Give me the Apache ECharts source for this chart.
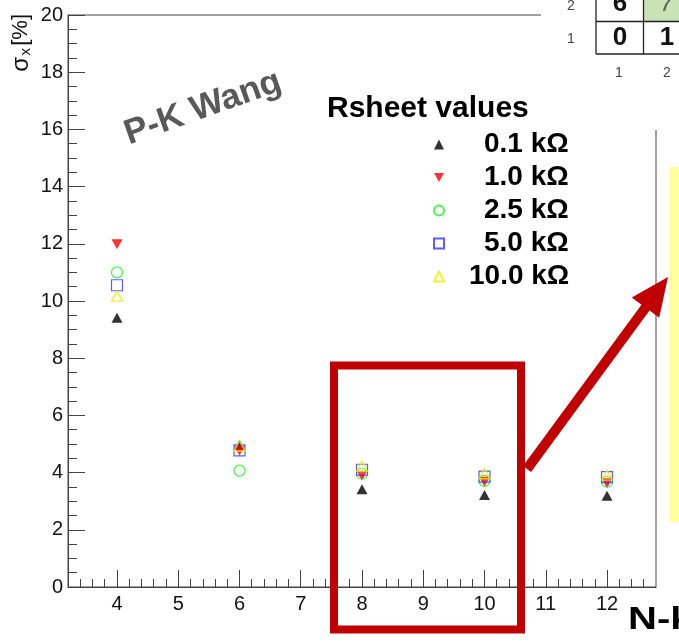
<!DOCTYPE html>
<html><head><meta charset="utf-8">
<script src="https://cdn.jsdelivr.net/npm/echarts@6/dist/echarts.min.js"></script>
<style>html,body{margin:0;padding:0;background:#fff}#c{width:679px;height:644px}</style>
</head><body><div id="c"></div>
<script>
// ---- data ----
const xValues = [4, 6, 8, 10, 12];
const r01  = [9.41, 4.97, 3.42, 3.22, 3.19];
const r10  = [11.98, 4.76, 3.89, 3.68, 3.63];
const r25  = [11.0, 4.07, 3.96, 3.71, 3.68];
const r50  = [10.55, 4.78, 4.10, 3.86, 3.84];
const r100 = [10.17, 4.93, 4.21, 3.96, 3.91];
const seriesNames = ['0.1 kΩ', '1.0 kΩ', '2.5 kΩ', '5.0 kΩ', '10.0 kΩ'];
const xTickLabels = [4, 5, 6, 7, 8, 9, 10, 11, 12];
const yTickLabels = [0, 2, 4, 6, 8, 10, 12, 14, 16, 18, 20];
const tableRowLabels = ['2', '1'];
const tableColLabels = ['1', '2'];
const tableCells = [['6', '7'], ['0', '1']];

const xMinorTicks = [];
for (let i = 17; i <= 63; i++) { if (i % 5 !== 0) xMinorTicks.push(i / 5); }

const FONT = 'Liberation Sans';
const AX = '#444';

function pts(arr) { return xValues.map((x, i) => [x, arr[i]]); }

const downTri = 'path://M0,0L10,0L5,9Z';
const series = [
  { name: seriesNames[0], data: pts(r01), symbol: 'triangle', symbolSize: [11, 10],
    itemStyle: { color: '#000' }, z: 3 },
  { name: seriesNames[1], data: pts(r10), symbol: downTri, symbolSize: [11, 10],
    itemStyle: { color: '#ff0000' }, z: 4 },
  { name: seriesNames[2], data: pts(r25), symbol: 'circle', symbolSize: 11,
    itemStyle: { color: 'rgba(255,255,255,0)', borderColor: '#22ee22', borderWidth: 1.2 }, z: 5 },
  { name: seriesNames[3], data: pts(r50), symbol: 'rect', symbolSize: 11,
    itemStyle: { color: 'rgba(255,255,255,0)', borderColor: '#3333ff', borderWidth: 1.2 }, z: 6 },
  { name: seriesNames[4], data: pts(r100), symbol: 'triangle', symbolSize: [11, 10],
    itemStyle: { color: 'rgba(255,255,255,0)', borderColor: '#eeee00', borderWidth: 1.4 }, z: 7 }
].map(s => Object.assign({ type: 'scatter', xAxisIndex: 0, yAxisIndex: 0, emphasis: { disabled: true } }, s));

// arrow geometry
const S = [527, 469], T = [668, 277];
const dx = T[0] - S[0], dy = T[1] - S[1], L = Math.hypot(dx, dy);
const u = [dx / L, dy / L], n = [-u[1], u[0]];
const headLen = 38, headHalf = 17, shaftHalf = 5;
const B = [T[0] - headLen * u[0], T[1] - headLen * u[1]];
const P = (p, k) => [p[0] + k * n[0], p[1] + k * n[1]];
const arrowPts = [P(S, shaftHalf), P(B, shaftHalf), P(B, headHalf), T, P(B, -headHalf), P(B, -shaftHalf), P(S, -shaftHalf)];

const graphics = [
  // white table image box
  { type: 'rect', z: 100, shape: { x: 541, y: 0, width: 138, height: 130 }, style: { fill: '#fff' } },
  { type: 'rect', z: 101, shape: { x: 644, y: 0, width: 40, height: 21.5 }, style: { fill: '#c9e3b6' } },
  { type: 'line', z: 102, shape: { x1: 596, y1: 0, x2: 596, y2: 54 }, style: { stroke: '#222', lineWidth: 1.3 } },
  { type: 'line', z: 102, shape: { x1: 643.5, y1: 0, x2: 643.5, y2: 54 }, style: { stroke: '#222', lineWidth: 1.3 } },
  { type: 'line', z: 102, shape: { x1: 596, y1: 21.5, x2: 679, y2: 21.5 }, style: { stroke: '#222', lineWidth: 1.3 } },
  { type: 'line', z: 102, shape: { x1: 596, y1: 54, x2: 679, y2: 54 }, style: { stroke: '#222', lineWidth: 1.3 } },
  { type: 'text', z: 103, x: 620, y: 4, style: { text: tableCells[0][0], font: 'bold 26px ' + FONT, fill: '#111', align: 'center', verticalAlign: 'middle' } },
  { type: 'text', z: 103, x: 667, y: 4, style: { text: tableCells[0][1], font: 'italic 26px ' + FONT, fill: '#5a6a50', align: 'center', verticalAlign: 'middle' } },
  { type: 'text', z: 103, x: 620, y: 38, style: { text: tableCells[1][0], font: 'bold 26px ' + FONT, fill: '#111', align: 'center', verticalAlign: 'middle' } },
  { type: 'text', z: 103, x: 667, y: 38, style: { text: tableCells[1][1], font: 'bold 26px ' + FONT, fill: '#111', align: 'center', verticalAlign: 'middle' } },
  { type: 'text', z: 103, x: 571, y: 6, style: { text: tableRowLabels[0], font: '14px ' + FONT, fill: '#444', align: 'center', verticalAlign: 'middle' } },
  { type: 'text', z: 103, x: 571, y: 39, style: { text: tableRowLabels[1], font: '14px ' + FONT, fill: '#444', align: 'center', verticalAlign: 'middle' } },
  { type: 'text', z: 103, x: 619, y: 73, style: { text: tableColLabels[0], font: '14px ' + FONT, fill: '#444', align: 'center', verticalAlign: 'middle' } },
  { type: 'text', z: 103, x: 667, y: 73, style: { text: tableColLabels[1], font: '14px ' + FONT, fill: '#444', align: 'center', verticalAlign: 'middle' } },
  // yellow box
  { type: 'rect', z: 100, shape: { x: 669.5, y: 167, width: 10, height: 355 }, style: { fill: '#ffff9e' } },
  // red box
  { type: 'rect', z: 104, shape: { x: 334, y: 365.5, width: 187, height: 264 }, style: { fill: 'none', stroke: '#c00000', lineWidth: 8 } },
  // arrow
  { type: 'polygon', z: 105, shape: { points: arrowPts }, style: { fill: '#c00000' } },
  // texts
  { type: 'text', z: 106, x: 203, y: 108, rotation: 0.34, style: { text: 'P-K Wang', font: 'bold 35px ' + FONT, fill: '#595959', align: 'center', verticalAlign: 'middle' } },
  { type: 'text', z: 106, x: 327, y: 108.5, style: { text: 'Rsheet values', font: 'bold 30px ' + FONT, fill: '#000', align: 'left', verticalAlign: 'middle' } },
  { type: 'text', z: 106, x: 628, y: 620, scaleX: 1.25, style: { text: 'N-k', font: 'bold 32px ' + FONT, fill: '#000', align: 'left', verticalAlign: 'middle' } },
  // y-axis title: [%] part, then x subscript, then sigma (rotated, reading bottom-to-top)
  { type: 'text', z: 106, x: 21, y: 14, rotation: Math.PI / 2, style: { text: '[%]', font: '22px ' + FONT, fill: '#111', align: 'right', verticalAlign: 'middle' } },
  { type: 'text', z: 106, x: 26, y: 48, rotation: Math.PI / 2, style: { text: 'x', font: '15px ' + FONT, fill: '#111', align: 'right', verticalAlign: 'middle' } },
  { type: 'text', z: 106, x: 21, y: 57, rotation: Math.PI / 2, style: { text: 'σ', font: '24px ' + FONT, fill: '#111', align: 'right', verticalAlign: 'middle' } }
];

const legendPad = { '10.0 kΩ': 20 };
const option = {
  animation: false,
  backgroundColor: '#fff',
  grid: { left: 68, right: 23, top: 15, bottom: 57, show: true, borderColor: AX, borderWidth: 1, backgroundColor: 'transparent' },
  xAxis: [
    { type: 'value', min: 3.2, max: 12.8, position: 'bottom',
      axisLine: { show: true, lineStyle: { color: AX, width: 1 } },
      axisTick: { show: true, inside: true, length: 17, customValues: xTickLabels, lineStyle: { color: AX } },
      axisLabel: { customValues: xTickLabels, fontSize: 20, fontFamily: FONT, color: '#111', margin: 7 },
      splitLine: { show: false } },
    { type: 'value', min: 3.2, max: 12.8, position: 'top', offset: -572,
      axisLine: { show: false },
      axisTick: { show: true, inside: false, length: 8, customValues: xMinorTicks, lineStyle: { color: AX } },
      axisLabel: { show: false },
      splitLine: { show: false } }
  ],
  yAxis: { type: 'value', min: 0, max: 20, interval: 2,
    axisLine: { show: true, lineStyle: { color: AX, width: 1 } },
    axisTick: { show: true, inside: true, length: 17, lineStyle: { color: AX } },
    minorTick: { show: true, splitNumber: 4, length: 9, lineStyle: { color: AX } },
    axisLabel: { fontSize: 20, fontFamily: FONT, color: '#111', margin: 5 },
    splitLine: { show: false } },
  legend: {
    orient: 'vertical', left: 433, top: 128, padding: 0, itemGap: 0,
    itemWidth: 10, itemHeight: 10, selectedMode: false,
    data: seriesNames,
    formatter: name => (legendPad[name] ? '{q|' : '{p|') + name + '}',
    textStyle: { fontSize: 28, fontWeight: 'bold', fontFamily: FONT, color: '#000', lineHeight: 33,
      rich: { p: { fontSize: 28, fontWeight: 'bold', fontFamily: FONT, color: '#000', lineHeight: 33, padding: [0, 0, 0, 35] },
              q: { fontSize: 28, fontWeight: 'bold', fontFamily: FONT, color: '#000', lineHeight: 33, padding: [0, 0, 0, 20] } } }
  },
  series: series,
  graphic: { elements: graphics }
};
const chart = echarts.init(document.getElementById('c'), null, { renderer: 'canvas' });
chart.setOption(option);
</script>
</body></html>
